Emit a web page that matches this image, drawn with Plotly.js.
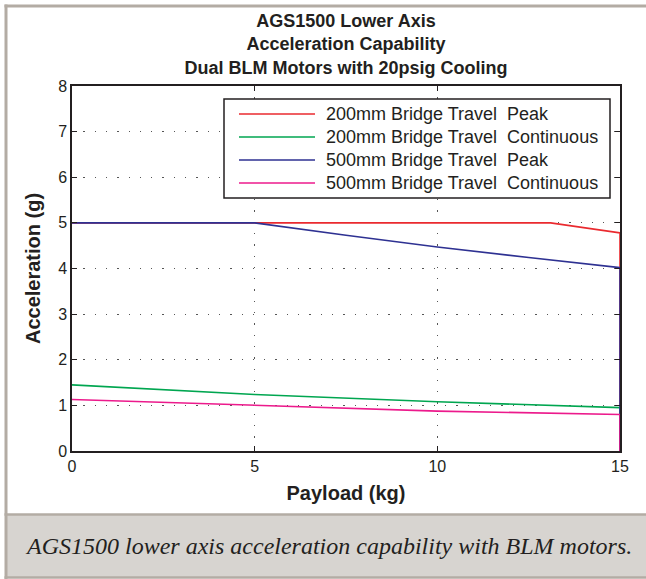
<!DOCTYPE html>
<html>
<head>
<meta charset="utf-8">
<script src="https://cdn.plot.ly/plotly-3.0.1.min.js"></script>
<style>html,body{margin:0;padding:0;background:#fff;overflow:hidden;}#chart{width:646px;height:579px;}</style>
</head>
<body>
<div id="chart"></div>
<script>
// ---- Data ----
const seriesNames = [
  "200mm Bridge Travel\u00a0\u00a0Peak",
  "200mm Bridge Travel\u00a0\u00a0Continuous",
  "500mm Bridge Travel\u00a0\u00a0Peak",
  "500mm Bridge Travel\u00a0\u00a0Continuous"
];
const peak200X = [0, 13.1, 15, 15];
const peak200Y = [5, 5, 4.78, 0];
const cont200X = [0, 5, 10, 15, 15];
const cont200Y = [1.45, 1.24, 1.08, 0.95, 0];
const peak500X = [0, 5, 7.5, 10, 12.5, 15, 15];
const peak500Y = [5, 5, 4.73, 4.47, 4.24, 4.02, 0];
const cont500X = [0, 5, 10, 15, 15];
const cont500Y = [1.13, 1.0, 0.875, 0.80, 0];
const xTicks = [0, 5, 10, 15];
const yTicks = [0, 1, 2, 3, 4, 5, 6, 7, 8];
const titleLines = ["AGS1500 Lower Axis", "Acceleration Capability", "Dual BLM Motors with 20psig Cooling"];
const xTitle = "Payload (kg)";
const yTitle = "Acceleration (g)";
const caption = "AGS1500 lower axis acceleration capability with BLM motors.";

// ---- Styling ----
const colors = ["#ea2a2f", "#00a650", "#2e3192", "#ec1a8c"];
const ink = "#231f20";
const frame = "#b3aca4";
const font = "Liberation Sans, Arial, Helvetica, sans-serif";
const W = 646, H = 579;
const L = 72, R = 620, T = 86, B = 451;
const px = x => (x - L) / (R - L);
const py = y => (B - y) / (B - T);

const xs = [peak200X, cont200X, peak500X, cont500X];
const ys = [peak200Y, cont200Y, peak500Y, cont500Y];
const traces = xs.map((x, i) => ({
  type: "scatter", mode: "lines", x: x, y: ys[i], name: seriesNames[i],
  line: {color: colors[i], width: 1.6}, showlegend: false
}));

const axisCommon = {
  showline: true, linecolor: ink, linewidth: 1.6, mirror: "ticks",
  ticks: "inside", ticklen: 5, tickcolor: ink, tickwidth: 1,
  showgrid: true, gridcolor: "#555", gridwidth: 1, griddash: "1.3px,10px",
  zeroline: false, tickfont: {family: font, size: 16, color: ink},
  fixedrange: true
};

// legend box drawn as layout decoration (pixel geometry)
const legBox = {x0: 224, x1: 610, y0: 99, y1: 198};
const legRows = [114, 137, 160, 183];
const legLineX = [239, 315];
const legTextX = 324;

const hline = (xa, xb, y, w) => ({type: "line", xref: "paper", yref: "paper", layer: "below",
  x0: px(xa), x1: px(xb), y0: py(y), y1: py(y), line: {color: frame, width: w}});
const shapes = [
  {type: "rect", xref: "paper", yref: "paper", layer: "below",
   x0: px(6), x1: px(W + 10), y0: py(514.5), y1: py(577.5),
   line: {width: 0}, fillcolor: "#d7d4d0"},
  hline(4.5, W + 10, 6, 3),
  hline(4.5, W + 10, 514.5, 2.5),
  hline(4.5, W + 10, 577.5, 2.5),
  {type: "line", xref: "paper", yref: "paper", layer: "below",
   x0: px(6), x1: px(6), y0: py(4.5), y1: py(579), line: {color: frame, width: 3}},
  {type: "rect", xref: "paper", yref: "paper", layer: "above",
   x0: px(legBox.x0), x1: px(legBox.x1), y0: py(legBox.y0), y1: py(legBox.y1),
   line: {color: ink, width: 1.5}, fillcolor: "#fff"}
];
const annotations = [
  {text: caption, xref: "paper", yref: "paper", x: px(328), y: py(546),
   xanchor: "center", yanchor: "middle", showarrow: false,
   font: {family: "Liberation Serif, Times New Roman, serif", size: 24, color: ink, style: "italic"}}
];
seriesNames.forEach((name, i) => {
  shapes.push({type: "line", xref: "paper", yref: "paper", layer: "above",
    x0: px(legLineX[0]), x1: px(legLineX[1]), y0: py(legRows[i]), y1: py(legRows[i]),
    line: {color: colors[i], width: 1.6}});
  annotations.push({text: name, xref: "paper", yref: "paper", x: px(legTextX), y: py(legRows[i]),
    xanchor: "left", yanchor: "middle", showarrow: false,
    font: {family: font, size: 18, color: ink}});
});

const layout = {
  width: W, height: H,
  margin: {l: L, r: W - R, t: T, b: H - B, pad: 0},
  paper_bgcolor: "#fff", plot_bgcolor: "#fff",
  showlegend: false,
  title: {
    text: titleLines.join("<br>"),
    font: {family: font, size: 18, color: ink, weight: 700},
    x: px(346), xref: "paper", xanchor: "center",
    y: 1 - 27 / H, yref: "container", yanchor: "middle"
  },
  xaxis: Object.assign({}, axisCommon, {
    range: [0, 15], tickvals: xTicks, ticktext: xTicks.map(String),
    title: {text: xTitle, font: {family: font, size: 20, color: ink, weight: 700}, standoff: 12}
  }),
  yaxis: Object.assign({}, axisCommon, {
    range: [0, 8], tickvals: yTicks, ticktext: yTicks.map(String),
    title: {text: yTitle, font: {family: font, size: 20, color: ink, weight: 700}, standoff: 12}
  }),
  shapes: shapes,
  annotations: annotations
};

Plotly.newPlot("chart", traces, layout, {displayModeBar: false, staticPlot: true});
</script>
</body>
</html>
